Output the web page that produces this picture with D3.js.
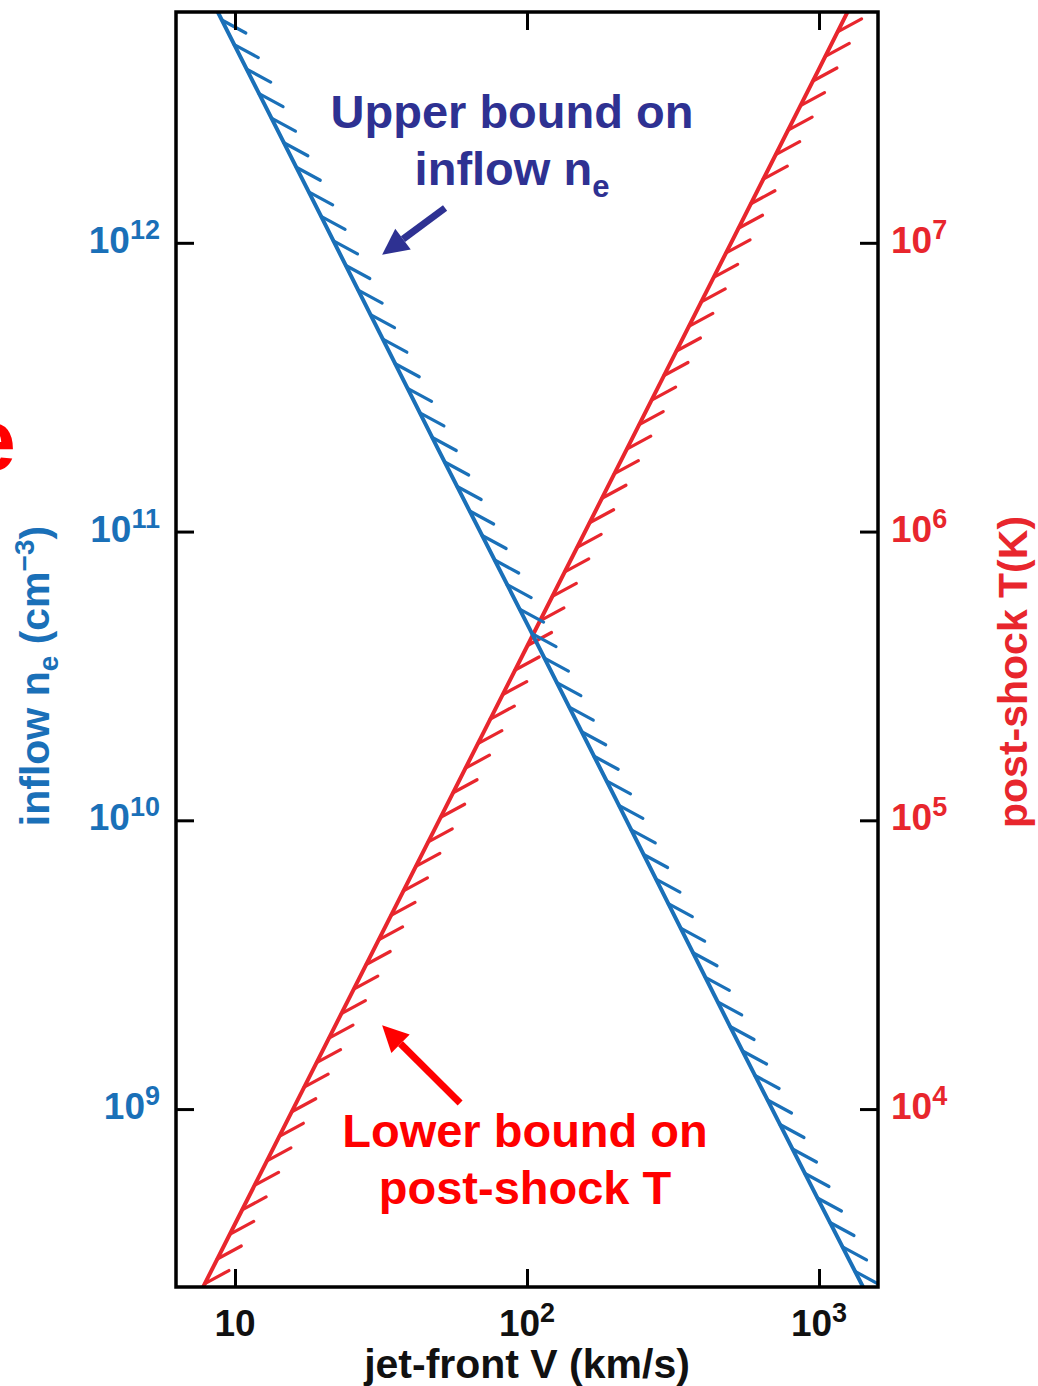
<!DOCTYPE html>
<html>
<head>
<meta charset="utf-8">
<script src="https://cdn.jsdelivr.net/npm/d3@7"></script>
<style>
  body { margin: 0; background: #fff; }
  svg { display: block; font-family: "Liberation Sans", Arial, Helvetica, sans-serif; font-weight: bold; }
</style>
</head>
<body>
<div id="chart"></div>
<script>
// jet-front speed (km/s) vs inflow density and post-shock temperature

// blue curve: upper bound on inflow n_e (cm^-3)
const vBlue  = [8, 10, 20, 50, 100, 200, 500, 1000, 1600];
const neBlue = [7.5e12, 4.8e12, 1.2e12, 1.9e11, 4.8e10, 1.2e10, 1.9e9, 4.8e8, 1.9e8];

// red curve: lower bound on post-shock T (K)
const vRed = [7, 10, 20, 50, 100, 200, 500, 1000, 1300];
const tRed = [1.96e3, 4.0e3, 1.6e4, 1.0e5, 4.0e5, 1.6e6, 1.0e7, 4.0e7, 6.8e7];

// axis ticks
const vTicks = [10, 100, 1000];
const vTickExp = ["", "2", "3"];
const neTicks = [1e9, 1e10, 1e11, 1e12];
const neTickExp = ["9", "10", "11", "12"];
const tTicks = [1e4, 1e5, 1e6, 1e7];
const tTickExp = ["4", "5", "6", "7"];

// axis extents
const vDomain = [6.28, 1592];
const neDomain = [2.42e8, 6.3e12];
const tDomain = [2.42e3, 6.3e7];

// annotation arrows, in data coords: [V, value] tail -> tip
const arrowBlue = [[52.4, 1.32e12], [31.9, 9.1e11]];
const arrowRed  = [[59, 1.05e4], [31.9, 1.95e4]];

const W = 1038, H = 1386;
const margin = {top: 12, right: 160, bottom: 99, left: 176};
const iw = W - margin.left - margin.right;
const ih = H - margin.top - margin.bottom;

const cBlue = "#1a70b8", cRed = "#e8262d";
const cBlueTxt = "#2e3192", cRedTxt = "#ff0000";

const svg = d3.select("#chart").append("svg")
    .attr("width", W)
    .attr("height", H);

const x = d3.scaleLog().domain(vDomain).range([margin.left, margin.left + iw]);
const yL = d3.scaleLog().domain(neDomain).range([margin.top + ih, margin.top]);
const yR = d3.scaleLog().domain(tDomain).range([margin.top + ih, margin.top]);

svg.append("clipPath").attr("id", "plot")
  .append("rect")
    .attr("x", margin.left).attr("y", margin.top)
    .attr("width", iw).attr("height", ih);

const plot = svg.append("g").attr("clip-path", "url(#plot)");

// curve + hatch marks along it
const drawCurve = (vs, ys, yScale, color, hx, hy) => {
  const pts = vs.map((v, i) => [x(v), yScale(ys[i])]);
  const path = plot.append("path")
      .attr("d", d3.line()(pts))
      .attr("fill", "none")
      .attr("stroke", color)
      .attr("stroke-width", 4);

  const node = path.node();
  const L = node.getTotalLength();
  const step = 27.5;
  const marks = [];
  for (let s = 6; s < L; s += step) marks.push(node.getPointAtLength(s));

  plot.selectAll(null)
    .data(marks)
    .join("line")
      .attr("x1", d => d.x).attr("y1", d => d.y)
      .attr("x2", d => d.x + hx).attr("y2", d => d.y + hy)
      .attr("stroke", color)
      .attr("stroke-width", 3.2)
      .attr("stroke-linecap", "round");
};

drawCurve(vRed, tRed, yR, cRed, 24, -13);
drawCurve(vBlue, neBlue, yL, cBlue, 24, 13);

// frame
svg.append("rect")
    .attr("x", margin.left).attr("y", margin.top)
    .attr("width", iw).attr("height", ih)
    .attr("fill", "none")
    .attr("stroke", "#000")
    .attr("stroke-width", 3.5);

// inward ticks
const tickLen = 18;
const tickStyle = g => {
  g.select(".domain").remove();
  g.selectAll(".tick line").attr("stroke", "#000").attr("stroke-width", 3);
};
svg.append("g").attr("transform", `translate(0,${margin.top + ih})`)
  .call(d3.axisBottom(x).tickValues(vTicks).tickSize(-tickLen).tickFormat(""))
  .call(tickStyle);
svg.append("g").attr("transform", `translate(0,${margin.top})`)
  .call(d3.axisTop(x).tickValues(vTicks).tickSize(-tickLen).tickFormat(""))
  .call(tickStyle);
svg.append("g").attr("transform", `translate(${margin.left},0)`)
  .call(d3.axisLeft(yL).tickValues(neTicks).tickSize(-tickLen).tickFormat(""))
  .call(tickStyle);
svg.append("g").attr("transform", `translate(${margin.left + iw},0)`)
  .call(d3.axisRight(yR).tickValues(tTicks).tickSize(-tickLen).tickFormat(""))
  .call(tickStyle);

// power-of-ten labels
const powLabel = (sel, exp) => {
  sel.append("tspan").text("10");
  sel.append("tspan").attr("font-size", 27).attr("dy", -14).text(exp);
};

svg.append("g").selectAll("text")
  .data(vTicks)
  .join("text")
    .attr("x", d => x(d))
    .attr("y", 1336)
    .attr("text-anchor", "middle")
    .attr("font-size", 37)
    .attr("fill", "#111")
    .each(function(d, i) { powLabel(d3.select(this), vTickExp[i]); });

svg.append("g").selectAll("text")
  .data(neTicks)
  .join("text")
    .attr("x", 160)
    .attr("y", d => yL(d) + 10)
    .attr("text-anchor", "end")
    .attr("font-size", 37)
    .attr("fill", cBlue)
    .each(function(d, i) { powLabel(d3.select(this), neTickExp[i]); });

svg.append("g").selectAll("text")
  .data(tTicks)
  .join("text")
    .attr("x", 891)
    .attr("y", d => yR(d) + 10)
    .attr("font-size", 37)
    .attr("fill", cRed)
    .each(function(d, i) { powLabel(d3.select(this), tTickExp[i]); });

// axis titles
svg.append("text")
    .attr("x", 527).attr("y", 1378)
    .attr("text-anchor", "middle")
    .attr("font-size", 41)
    .attr("fill", "#111")
    .text("jet-front V (km/s)");

const yTitle = svg.append("text")
    .attr("transform", "translate(49,676) rotate(-90)")
    .attr("text-anchor", "middle")
    .attr("font-size", 41)
    .attr("fill", cBlue);
yTitle.append("tspan").text("inflow n");
yTitle.append("tspan").attr("font-size", 28).attr("dy", 9).text("e");
yTitle.append("tspan").attr("dy", -9).text(" (cm");
yTitle.append("tspan").attr("font-size", 28).attr("dy", -15).text("\u22123");
yTitle.append("tspan").attr("dy", 15).text(")");

svg.append("text")
    .attr("transform", "translate(1027,672) rotate(-90)")
    .attr("text-anchor", "middle")
    .attr("font-size", 41)
    .attr("fill", cRed)
    .text("post-shock T(K)");

// stray letter cut off at the left edge (as in the source slide)
svg.append("text")
    .attr("x", -33).attr("y", 470)
    .attr("font-size", 88)
    .attr("fill", cRedTxt)
    .text("e");

// annotations
const upper = svg.append("text")
    .attr("text-anchor", "middle")
    .attr("font-size", 47)
    .attr("fill", cBlueTxt);
upper.append("tspan").attr("x", 512).attr("y", 128).text("Upper bound on");
upper.append("tspan").attr("x", 512).attr("y", 185).text("inflow n")
  .append("tspan").attr("font-size", 31).attr("dy", 12).text("e");

const lower = svg.append("text")
    .attr("text-anchor", "middle")
    .attr("font-size", 47)
    .attr("fill", cRedTxt);
lower.append("tspan").attr("x", 525).attr("y", 1147).text("Lower bound on");
lower.append("tspan").attr("x", 525).attr("y", 1204).text("post-shock T");

const drawArrow = (a, yScale, color) => {
  const [x0, y0] = [x(a[0][0]), yScale(a[0][1])];
  const [x1, y1] = [x(a[1][0]), yScale(a[1][1])];
  const ang = Math.atan2(y1 - y0, x1 - x0);
  const headL = 26, headW = 13;
  const bx = x1 - headL * Math.cos(ang), by = y1 - headL * Math.sin(ang);
  svg.append("line")
      .attr("x1", x0).attr("y1", y0)
      .attr("x2", bx).attr("y2", by)
      .attr("stroke", color)
      .attr("stroke-width", 7);
  const px = -Math.sin(ang) * headW, py = Math.cos(ang) * headW;
  svg.append("path")
      .attr("d", `M${x1},${y1}L${bx + px},${by + py}L${bx - px},${by - py}Z`)
      .attr("fill", color);
};

drawArrow(arrowBlue, yL, cBlueTxt);
drawArrow(arrowRed, yR, cRedTxt);
</script>
</body>
</html>
